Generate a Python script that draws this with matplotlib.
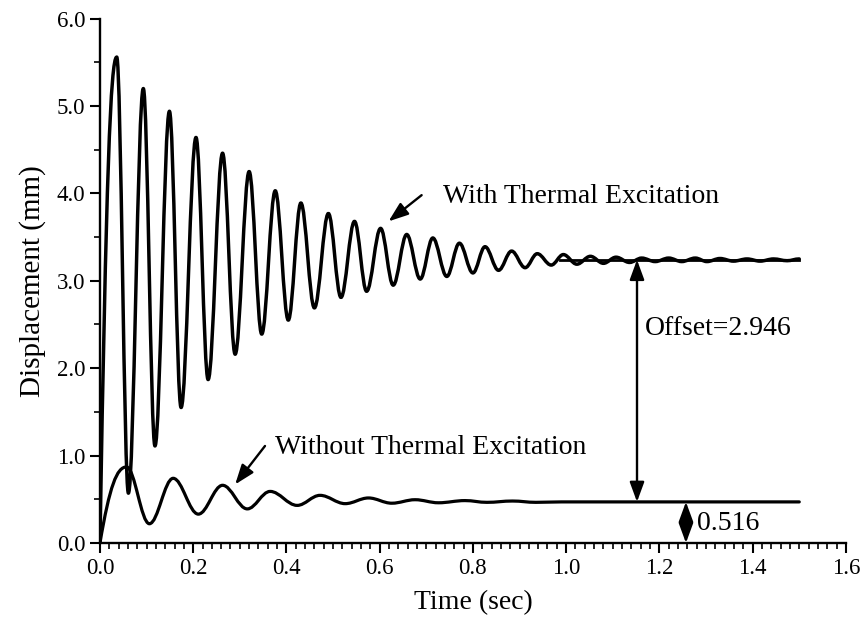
import matplotlib
matplotlib.use('Agg')
import matplotlib.pyplot as plt
from matplotlib.path import Path
from matplotlib.patches import PathPatch
from matplotlib.ticker import MultipleLocator, FormatStrFormatter

plt.rcParams['font.family'] = ['Liberation Serif', 'DejaVu Serif']

# peaks / troughs (time in sec, displacement in mm)
with_t = [0.0, 0.036, 0.061, 0.093, 0.118, 0.149, 0.174, 0.206, 0.232, 0.263,
          0.290, 0.320, 0.347, 0.376, 0.404, 0.431, 0.460, 0.490, 0.517, 0.546,
          0.572, 0.602, 0.629, 0.658, 0.687, 0.714, 0.744, 0.771, 0.800, 0.826,
          0.855, 0.883, 0.912, 0.938, 0.968, 0.994, 1.023, 1.052, 1.080, 1.107,
          1.136, 1.162, 1.191, 1.220, 1.248, 1.277, 1.302, 1.330, 1.359, 1.388,
          1.416, 1.445, 1.474, 1.500]
with_y = [0.0, 5.56, 0.57, 5.20, 1.11, 4.94, 1.55, 4.64, 1.87, 4.46,
          2.16, 4.25, 2.39, 4.03, 2.55, 3.89, 2.69, 3.77, 2.81, 3.68,
          2.88, 3.60, 2.95, 3.53, 3.02, 3.49, 3.05, 3.43, 3.09, 3.39,
          3.12, 3.34, 3.15, 3.31, 3.18, 3.30, 3.19, 3.28, 3.20, 3.27,
          3.21, 3.26, 3.22, 3.26, 3.22, 3.26, 3.22, 3.255, 3.225, 3.25,
          3.225, 3.25, 3.23, 3.25]

without_t = [0.0, 0.057, 0.106, 0.157, 0.211, 0.263, 0.316, 0.365, 0.423, 0.472,
             0.526, 0.576, 0.626, 0.676, 0.726, 0.783, 0.830, 0.885, 0.935, 0.990,
             1.500]
without_y = [0.0, 0.87, 0.22, 0.74, 0.33, 0.66, 0.39, 0.59, 0.43, 0.545,
             0.45, 0.515, 0.455, 0.495, 0.46, 0.485, 0.465, 0.48, 0.465, 0.47,
             0.47]

# settled levels used for the offset markers
level_t = [0.987, 1.5]
level_with = 3.24
level_without = 0.47
offset_x = 1.152
base_x = 1.257


def smooth_path(t, y, c=0.364):
    # cubic segments between extrema, flat tangent at each peak/trough
    verts = [(t[0], y[0])]
    codes = [Path.MOVETO]
    for i in range(1, len(t)):
        dt = t[i] - t[i - 1]
        if i == 1:
            p1 = (t[0] + c * dt, y[0] + 0.75 * (y[1] - y[0]))
        else:
            p1 = (t[i - 1] + c * dt, y[i - 1])
        verts += [p1, (t[i] - c * dt, y[i]), (t[i], y[i])]
        codes += [Path.CURVE4] * 3
    return Path(verts, codes)


fig = plt.figure(figsize=(8.64, 6.31), dpi=100)
ax = fig.add_axes([0.1157, 0.1395, 0.8633, 0.831])

ax.add_patch(PathPatch(smooth_path(with_t, with_y), fill=False, lw=2.5,
                       edgecolor='black', capstyle='round', joinstyle='round'))
ax.add_patch(PathPatch(smooth_path(without_t, without_y), fill=False, lw=2.3,
                       edgecolor='black', capstyle='round', joinstyle='round'))
ax.plot(level_t, [level_with, level_with], color='black', lw=2.0)

arrow = dict(arrowstyle='-|>,head_length=0.6,head_width=0.22', color='black',
             lw=1.7, mutation_scale=20, shrinkA=0, shrinkB=0)
darrow = dict(arrowstyle='<|-|>,head_length=0.6,head_width=0.22', color='black',
              lw=1.7, mutation_scale=20, shrinkA=0, shrinkB=0)

ax.annotate('', xy=(0.619, 3.68), xytext=(0.690, 3.98), arrowprops=arrow)
ax.text(0.735, 3.96, 'With Thermal Excitation', fontsize=20, va='center', ha='left')

ax.annotate('', xy=(0.290, 0.67), xytext=(0.354, 1.11), arrowprops=arrow)
ax.text(0.376, 1.09, 'Without Thermal Excitation', fontsize=20, va='center', ha='left')

ax.annotate('', xy=(offset_x, level_without), xytext=(offset_x, level_with),
            arrowprops=darrow)
ax.text(offset_x + 0.016, 2.45, 'Offset=2.946', fontsize=20, va='center', ha='left')

ax.annotate('', xy=(base_x, 0.0), xytext=(base_x, level_without), arrowprops=darrow)
ax.text(base_x + 0.024, 0.22, '0.516', fontsize=20, va='center', ha='left')

ax.set_xlim(0, 1.6)
ax.set_ylim(0, 6.0)
ax.xaxis.set_major_locator(MultipleLocator(0.2))
ax.xaxis.set_minor_locator(MultipleLocator(0.02))
ax.yaxis.set_major_locator(MultipleLocator(1.0))
ax.yaxis.set_minor_locator(MultipleLocator(0.5))
ax.xaxis.set_major_formatter(FormatStrFormatter('%.1f'))
ax.yaxis.set_major_formatter(FormatStrFormatter('%.1f'))
ax.tick_params(which='major', direction='out', length=7, width=1.5, labelsize=16.5)
ax.tick_params(which='minor', direction='out', length=4, width=1.2)

for s in ['top', 'right']:
    ax.spines[s].set_visible(False)
for s in ['left', 'bottom']:
    ax.spines[s].set_linewidth(1.7)

ax.set_xlabel('Time (sec)', fontsize=20, labelpad=8)
ax.set_ylabel('Displacement (mm)', fontsize=21, labelpad=8)

fig.savefig('out.png', dpi=100)
